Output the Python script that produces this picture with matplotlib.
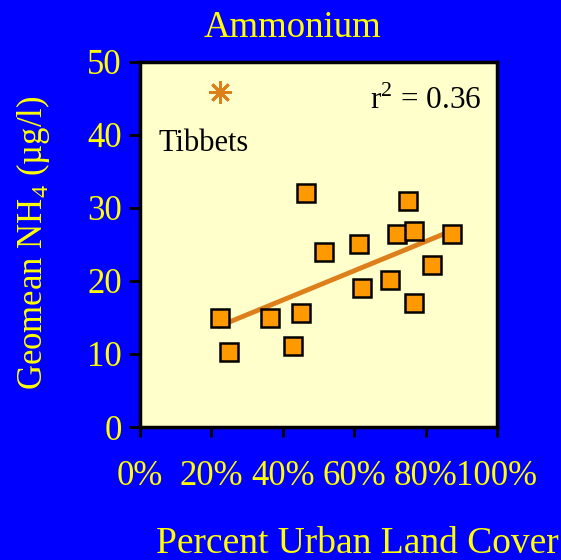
import numpy as np
import matplotlib
matplotlib.use("Agg")
import matplotlib.pyplot as plt

plt.rcParams['font.family'] = ['Liberation Serif', 'DejaVu Serif']
plt.rcParams['mathtext.fontset'] = 'custom'
plt.rcParams['mathtext.rm'] = 'Liberation Serif'

# percent urban land cover vs geomean NH4 (ug/l)
urban = [22.4, 24.9, 36.4, 45.0, 42.9, 46.5, 51.5, 61.4, 62.2, 70.0,
         71.9, 75.1, 76.6, 76.6, 81.7, 87.5]
nh4 = [14.9, 10.3, 14.9, 15.6, 11.1, 32.0, 24.0, 25.1, 19.1, 20.1,
       26.4, 31.0, 26.9, 17.0, 22.2, 26.4]
# outlier, left out of the fit
tib_x = [22.4]
tib_y = [45.9]

xticks = [0, 20, 40, 60, 80, 100]
xlabels = ['0%', '20%', '40%', '60%', '80%', '100%']
yticks = [0, 10, 20, 30, 40, 50]

blue = '#0000FF'
yellow = '#FFFF00'
orange = '#FF9900'
dark_orange = '#DD7F1A'

fig = plt.figure(figsize=(5.61, 5.60), dpi=100, facecolor=blue)
ax = fig.add_axes([0.2496, 0.2375, 0.6364, 0.6518])
ax.set_facecolor('#FFFFCC')

# trend line
k, b = np.polyfit(urban, nh4, 1)
xx = np.array([min(urban), max(urban)])
ax.plot(xx, k * xx + b, color=dark_orange, lw=3.5, zorder=2)

ax.plot(urban, nh4, 's', ms=12.5, mfc=orange, mec='black', mew=1.8, zorder=3)
ax.plot(tib_x, tib_y, marker=(8, 2, 0), ms=16.5, color=dark_orange, mew=2, ls='none')

ax.text(17.8, 38.8, 'Tibbets', fontsize=22, color='black', va='center', ha='center')
ax.text(95.8, 44.7, 'r$^2$ = 0.36', fontsize=22.5, color='black', va='center', ha='right')

ax.set_xlim(0, 100)
ax.set_ylim(0, 50)
ax.set_xticks(xticks)
ax.set_xticklabels(xlabels)
ax.set_yticks(yticks)
for s in ax.spines.values():
    s.set_linewidth(2.5)
    s.set_color('black')
ax.tick_params(axis='x', direction='out', length=7, width=2, color='black',
               labelcolor=yellow, labelsize=25, pad=17)
ax.tick_params(axis='y', direction='out', length=8, width=2, color='black',
               labelcolor=yellow, labelsize=25, pad=5)

fig.text(0.521, 0.951, 'Ammonium', color=yellow, fontsize=26.5, ha='center', va='center')
fig.text(0.637, 0.029, 'Percent Urban Land Cover', color=yellow, fontsize=27,
         ha='center', va='center')
fig.text(0.059, 0.567, 'Geomean NH$_4$ (µg/l)', color=yellow, fontsize=25,
         ha='center', va='center', rotation=90)

fig.savefig('out.png', dpi=100, facecolor=blue)
